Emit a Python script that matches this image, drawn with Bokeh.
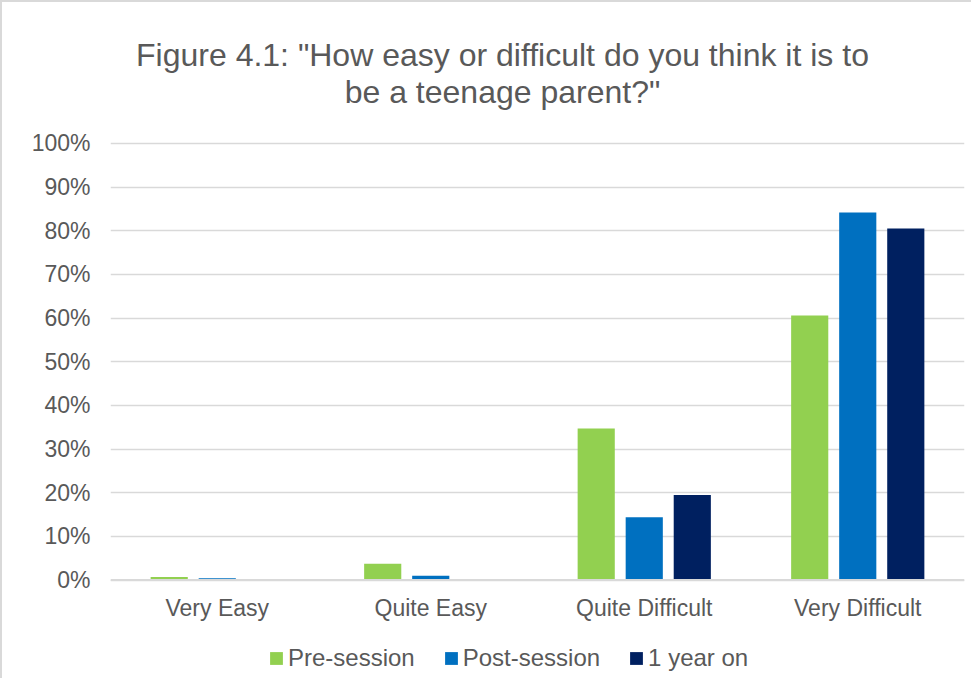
from bokeh.plotting import figure
from bokeh.models import (ColumnDataSource, FactorRange, NumeralTickFormatter, Legend,
                          LegendItem, FixedTicker, Span, Label)
from bokeh.core.properties import value
from bokeh.transform import dodge
from bokeh.embed import file_html
from bokeh.resources import INLINE

categories = ["Very Easy", "Quite Easy", "Quite Difficult", "Very Difficult"]
pre_session = [0.007, 0.037, 0.347, 0.606]
post_session = [0.004, 0.010, 0.144, 0.842]
one_year_on = [0.0, 0.0, 0.195, 0.805]
series_names = ["Pre-session", "Post-session", "1 year on"]
colors = ["#92D050", "#0070C0", "#002060"]
y_ticks = [i / 10 for i in range(11)]
title_lines = ['Figure 4.1: "How easy or difficult do you think it is to', 'be a teenage parent?"']

FONT = "Liberation Sans"
TXT = "#595959"

src = ColumnDataSource(dict(cat=categories, pre=pre_session, post=post_session, year=one_year_on))

p = figure(width=971, height=678, x_range=FactorRange(*categories, range_padding=0),
           y_range=(-0.2302, 1.3230), output_backend="svg", toolbar_location=None,
           min_border_left=108, min_border_right=9, min_border_top=0, min_border_bottom=0)
p.styles = {"border-left": "2px solid #d9d9d9", "border-top": "2px solid #d9d9d9"}

renderers = []
for key, off, col in zip(["pre", "post", "year"], [-0.225, 0.0, 0.225], colors):
    r = p.vbar(x=dodge("cat", off, range=p.x_range), top=key, width=0.174, source=src,
               fill_color=col, line_color=None)
    renderers.append(r)

p.add_layout(Span(location=0, dimension="width", line_color="#d9d9d9", line_width=2))

p.text(x=categories, y=[-0.063] * len(categories), text=categories, text_align="center",
       text_baseline="middle", text_font=value(FONT), text_font_size="23px", text_color=TXT)

for line, ty in zip(title_lines, [1.2016, 1.1170]):
    p.add_layout(Label(x=1.836, y=ty, text=line, text_align="center", text_baseline="middle",
                       text_font=FONT, text_font_size="32px", text_color=TXT))

legend = Legend(items=[LegendItem(label=n, renderers=[r]) for n, r in zip(series_names, renderers)],
                orientation="horizontal", location=(158, 8), label_text_font=FONT,
                label_text_font_size="24px", label_text_color=TXT, glyph_width=16,
                glyph_height=16, spacing=28, label_standoff=4, border_line_color=None,
                background_fill_alpha=0, padding=0, margin=0)
p.add_layout(legend)

p.xaxis.visible = False
p.yaxis.ticker = FixedTicker(ticks=y_ticks)
p.yaxis.formatter = NumeralTickFormatter(format="0%")
p.yaxis.axis_line_color = None
p.yaxis.major_tick_line_color = None
p.yaxis.minor_tick_line_color = None
p.yaxis.major_label_standoff = 14
p.yaxis.major_label_text_font = FONT
p.yaxis.major_label_text_font_size = "23px"
p.yaxis.major_label_text_color = TXT

p.xgrid.grid_line_color = None
p.ygrid.grid_line_color = "#d9d9d9"
p.ygrid.grid_line_width = 1.3
p.outline_line_color = None

open("out.html", "w").write(file_html(p, INLINE))
